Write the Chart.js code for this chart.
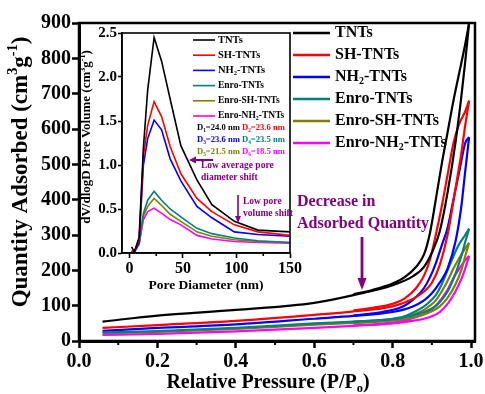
<!DOCTYPE html>
<html><head><meta charset="utf-8">
<script src="https://cdn.jsdelivr.net/npm/chart.js@4.4.0/dist/chart.umd.min.js"></script>
<style>
html,body{margin:0;padding:0;background:#fff;}
#wrap{position:relative;width:485px;height:394px;overflow:hidden;background:#fff;}
#main{position:absolute;left:0;top:0;}
#inset{position:absolute;left:80px;top:26px;}
</style></head><body>
<div id="wrap"><canvas id="main" width="485" height="394"></canvas><canvas id="inset" width="230" height="270"></canvas></div>
<script>
// ---------- data ----------
const seriesNames = ['TNTs','SH-TNTs','NH_{2}-TNTs','Enro-TNTs','Enro-SH-TNTs','Enro-NH_{2}-TNTs'];
const seriesColors = ['#000000','#ff0000','#0000ff','#008080','#808000','#ff00ff'];

// main isotherms: relative pressure (P/P0) vs quantity adsorbed (cm3/g)
const pAds = [0.06,0.2,0.4,0.6,0.7,0.8,0.85,0.88,0.9,0.92,0.94,0.96,0.975,0.985,0.995];
const pDes = [0.7,0.75,0.8,0.83,0.86,0.88,0.895,0.91,0.925,0.94,0.955,0.97,0.985,0.995];
const tntsAds    = [55,72,88,108,130,158,182,210,250,310,420,560,690,790,900];
const tntsDes    = [132,145,163,180,210,245,305,400,500,590,680,760,840,900];
const shAds      = [37,45,57,74,84,98,118,140,165,215,300,430,530,610,680];
const shDes      = [87,94,105,120,150,185,230,300,380,470,560,615,650,680];
const nh2Ads     = [29,37,47,63,71,82,97,115,135,165,205,280,380,480,577];
const nh2Des     = [72,78,88,100,125,150,180,220,270,320,400,480,560,577];
const enroAds    = [24,28,37,50,55,62,72,82,92,110,140,190,240,280,318];
const enroDes    = [55,58,63,70,85,98,112,130,160,200,240,275,300,318];
const enroShAds  = [22,26,34,46,51,58,66,75,84,98,122,160,200,240,278];
const enroShDes  = [51,54,60,66,78,88,100,115,140,170,205,235,262,278];
const enroNh2Ads = [17,20,27,37,43,50,57,63,70,82,105,140,175,205,241];
const enroNh2Des = [44,47,53,58,68,76,86,100,120,145,178,205,228,241];
const xTickValues = [0,0.2,0.4,0.6,0.8,1.0];
const xMinorValues = [0.1,0.3,0.5,0.7,0.9];
const yTickValues = [0,100,200,300,400,500,600,700,800,900];

// inset: pore size distribution
const poreDiameter = [2,4.5,9,13,17,23,30,38,48,63,77,98,120,150];
const tntsPsd    = [0.07,0.01,0.18,1.2,1.85,2.45,2.18,1.75,1.22,0.83,0.55,0.36,0.26,0.24];
const shPsd      = [0.02,0.01,0.16,1.1,1.45,1.72,1.55,1.21,0.9,0.62,0.47,0.32,0.24,0.2];
const nh2Psd     = [0.02,0.01,0.12,1.0,1.3,1.51,1.4,1.07,0.82,0.53,0.4,0.24,0.21,0.19];
const enroPsd    = [0.02,0.01,0.12,0.45,0.6,0.70,0.6,0.5,0.41,0.28,0.22,0.17,0.14,0.12];
const enroShPsd  = [0.02,0.01,0.1,0.42,0.53,0.62,0.54,0.44,0.36,0.24,0.19,0.15,0.13,0.12];
const enroNh2Psd = [0.02,0.01,0.1,0.38,0.47,0.51,0.45,0.38,0.32,0.2,0.16,0.13,0.12,0.11];
const insetXTicks = [0,50,100,150];
const insetXMinor = [25,75,125];
const insetYTicks = [0,0.5,1.0,1.5,2.0,2.5];
const poreLabels = ['D_{1}=24.0 nm','D_{2}=23.6 nm','D_{3}=23.6 nm','D_{4}=23.5 nm','D_{5}=21.5 nm','D_{6}=18.5 nm'];

const FAM = "'Liberation Serif','Times New Roman',serif";
const PURPLE = '#800080';

// ---------- helpers ----------
function segs(text){
  const out=[]; const re=/(_\{[^}]*\}|\^\{[^}]*\})/g; let last=0,m;
  while((m=re.exec(text))){ if(m.index>last) out.push({t:text.slice(last,m.index),k:0});
    out.push({t:m[0].slice(2,-1),k:m[0][0]==='_'?1:2}); last=re.lastIndex; }
  if(last<text.length) out.push({t:text.slice(last),k:0});
  return out;
}
function drawRich(ctx,text,x,y,size,color,align){
  const s=segs(text); ctx.save(); ctx.fillStyle=color; ctx.textBaseline='middle'; ctx.textAlign='left';
  let w=0; s.forEach(g=>{ctx.font='bold '+(g.k?size*0.62:size)+'px '+FAM; g.w=ctx.measureText(g.t).width; w+=g.w;});
  let cx = align==='center'? x-w/2 : (align==='right'? x-w : x);
  s.forEach(g=>{ctx.font='bold '+(g.k?size*0.62:size)+'px '+FAM;
    const dy = g.k===1? size*0.3 : (g.k===2? -size*0.32 : 0);
    ctx.fillText(g.t,cx,y+dy); cx+=g.w;});
  ctx.restore();
}
function arrow(ctx,x1,y1,x2,y2,color,lw,hl,hw){
  const a=Math.atan2(y2-y1,x2-x1);
  ctx.save(); ctx.strokeStyle=color; ctx.fillStyle=color; ctx.lineWidth=lw;
  ctx.beginPath(); ctx.moveTo(x1,y1); ctx.lineTo(x2-Math.cos(a)*hl*0.8,y2-Math.sin(a)*hl*0.8); ctx.stroke();
  ctx.beginPath(); ctx.moveTo(x2,y2);
  ctx.lineTo(x2-Math.cos(a)*hl-Math.sin(a)*hw, y2-Math.sin(a)*hl+Math.cos(a)*hw);
  ctx.lineTo(x2-Math.cos(a)*hl+Math.sin(a)*hw, y2-Math.sin(a)*hl-Math.cos(a)*hw);
  ctx.closePath(); ctx.fill(); ctx.restore();
}

// ---------- main chart ----------
const adsSets=[tntsAds,shAds,nh2Ads,enroAds,enroShAds,enroNh2Ads];
const desSets=[tntsDes,shDes,nh2Des,enroDes,enroShDes,enroNh2Des];
const mainDatasets=[];
adsSets.forEach((arr,i)=>{
  mainDatasets.push({label:seriesNames[i],data:pAds.map((p,j)=>({x:p,y:arr[j]})),borderColor:seriesColors[i],borderWidth:2.2,pointRadius:0,fill:false,cubicInterpolationMode:'monotone'});
  mainDatasets.push({label:seriesNames[i]+' des',data:pDes.map((p,j)=>({x:p,y:desSets[i][j]})),borderColor:seriesColors[i],borderWidth:2.2,pointRadius:0,fill:false,cubicInterpolationMode:'monotone'});
});

const mainDecor={id:'mainDecor',afterDraw(chart){
  const ctx=chart.ctx, a=chart.chartArea, xs=chart.scales.x;
  ctx.save(); ctx.strokeStyle='#000'; ctx.lineWidth=2.5;
  ctx.strokeRect(a.left,a.top,a.right-a.left,a.bottom-a.top);
  ctx.lineWidth=2;
  xMinorValues.forEach(v=>{const px=xs.getPixelForValue(v); ctx.beginPath(); ctx.moveTo(px,a.bottom); ctx.lineTo(px,a.bottom+4); ctx.stroke();});
  ctx.restore();
  // legend
  seriesNames.forEach((n,i)=>{
    const y=33+i*22;
    ctx.save(); ctx.strokeStyle=seriesColors[i]; ctx.lineWidth=2.5; ctx.beginPath(); ctx.moveTo(293,y); ctx.lineTo(330,y); ctx.stroke(); ctx.restore();
    drawRich(ctx,n,335,y,16,'#000','left');
  });
  // annotation
  drawRich(ctx,'Decrease in',297,202,16,PURPLE,'left');
  drawRich(ctx,'Adsorbed Quantity',297,224,16,PURPLE,'left');
  arrow(ctx,362,237,362,290,PURPLE,2.8,12,4.5);
  // axis titles
  ctx.save(); ctx.translate(21,172); ctx.rotate(-Math.PI/2);
  drawRich(ctx,'Quantity Adsorbed (cm^{3}g^{-1})',0,0,23,'#000','center'); ctx.restore();
  drawRich(ctx,'Relative Pressure (P/P_{o})',268,383,20,'#000','center');
}};

const tickFont={family:FAM,size:20,weight:'bold'};
new Chart(document.getElementById('main'),{
  type:'line',
  data:{datasets:mainDatasets},
  options:{responsive:false,animation:false,devicePixelRatio:1,
    layout:{padding:{left:0,right:10,top:23,bottom:0}},
    plugins:{legend:{display:false},tooltip:{enabled:false}},
    scales:{
      x:{type:'linear',min:0,max:1.01,
        afterBuildTicks:s=>{s.ticks=xTickValues.map(v=>({value:v}));},
        afterFit:s=>{s.height=53;s.paddingLeft=0;s.paddingRight=0;},
        ticks:{font:tickFont,color:'#000',padding:2,maxRotation:0,autoSkip:false,callback:v=>Number(v).toFixed(1)},
        grid:{drawOnChartArea:false,drawTicks:true,tickLength:7,tickWidth:2.5,tickColor:'#000'},
        border:{display:true,color:'#000',width:3}},
      y:{type:'linear',min:0,max:900,
        afterBuildTicks:s=>{s.ticks=yTickValues.map(v=>({value:v}));},
        afterFit:s=>{s.width=79;s.paddingTop=0;s.paddingBottom=0;},
        ticks:{font:tickFont,color:'#000',padding:1,autoSkip:false},
        grid:{drawOnChartArea:false,drawTicks:true,tickLength:7,tickWidth:2.5,tickColor:'#000'},
        border:{display:true,color:'#000',width:3}}
    }},
  plugins:[mainDecor]
});

// ---------- inset chart ----------
const OX=80, OY=26;
const psdSets=[tntsPsd,shPsd,nh2Psd,enroPsd,enroShPsd,enroNh2Psd];
const insetDatasets=psdSets.map((arr,i)=>({label:seriesNames[i],data:poreDiameter.map((d,j)=>({x:d,y:arr[j]})),borderColor:seriesColors[i],borderWidth:1.6,pointRadius:0,fill:false,tension:0}));
const labelColors=['#000000','#ff0000','#0000ff','#008080','#808000','#ff00ff'];
const insetDecor={id:'insetDecor',afterDraw(chart){
  const ctx=chart.ctx, a=chart.chartArea, xs=chart.scales.x;
  ctx.save(); ctx.strokeStyle='#000'; ctx.lineWidth=1.6;
  ctx.strokeRect(a.left,a.top,a.right-a.left,a.bottom-a.top);
  insetXMinor.forEach(v=>{const px=xs.getPixelForValue(v); ctx.beginPath(); ctx.moveTo(px,a.bottom); ctx.lineTo(px,a.bottom+3); ctx.stroke();});
  ctx.restore();
  ctx.save(); ctx.translate(-OX,-OY);
  seriesNames.forEach((n,i)=>{
    const y=40+i*15.2;
    ctx.save(); ctx.strokeStyle=seriesColors[i]; ctx.lineWidth=1.6; ctx.beginPath(); ctx.moveTo(193,y); ctx.lineTo(215,y); ctx.stroke(); ctx.restore();
    drawRich(ctx,n,218,y,i<3?10.5:9.5,'#000','left');
  });
  poreLabels.forEach((t,i)=>{
    const col=i%2, row=Math.floor(i/2);
    drawRich(ctx,t,col?242:197,128+row*12,8.6,labelColors[i],'left');
  });
  arrow(ctx,213,160,189,160,PURPLE,2,7,3.5);
  drawRich(ctx,'Low average pore',201,166,9.5,PURPLE,'left');
  drawRich(ctx,'diameter shift',201,178,9.5,PURPLE,'left');
  arrow(ctx,238,195,238,223,PURPLE,1.6,7,3);
  drawRich(ctx,'Low pore',243,202,9.5,PURPLE,'left');
  drawRich(ctx,'volume shift',243,214,9.5,PURPLE,'left');
  ctx.save(); ctx.translate(87,137); ctx.rotate(-Math.PI/2);
  drawRich(ctx,'dV/dlogD Pore Volume (cm^{3}g^{-1})',0,0,13,'#000','center'); ctx.restore();
  drawRich(ctx,'Pore Diameter (nm)',206,286,13.5,'#000','center');
  ctx.restore();
}};
new Chart(document.getElementById('inset'),{
  type:'line',
  data:{datasets:insetDatasets},
  options:{responsive:false,animation:false,devicePixelRatio:1,
    layout:{padding:{left:0,right:20,top:7,bottom:0}},
    plugins:{legend:{display:false},tooltip:{enabled:false}},
    scales:{
      x:{type:'linear',min:-7,max:150,
        afterBuildTicks:s=>{s.ticks=insetXTicks.map(v=>({value:v}));},
        afterFit:s=>{s.height=43;s.paddingLeft=0;s.paddingRight=0;},
        ticks:{font:{family:FAM,size:16,weight:'bold'},color:'#000',padding:1,maxRotation:0,autoSkip:false},
        grid:{drawOnChartArea:false,drawTicks:true,tickLength:5,tickWidth:1.6,tickColor:'#000'},
        border:{display:true,color:'#000',width:1.6}},
      y:{type:'linear',min:0,max:2.5,
        afterBuildTicks:s=>{s.ticks=insetYTicks.map(v=>({value:v}));},
        afterFit:s=>{s.width=42;s.paddingTop=0;s.paddingBottom=0;},
        ticks:{font:{family:FAM,size:15,weight:'bold'},color:'#000',padding:1,autoSkip:false,callback:v=>Number(v).toFixed(1)},
        grid:{drawOnChartArea:false,drawTicks:true,tickLength:4,tickWidth:1.6,tickColor:'#000'},
        border:{display:true,color:'#000',width:1.6}}
    }},
  plugins:[insetDecor]
});
</script></body></html>
